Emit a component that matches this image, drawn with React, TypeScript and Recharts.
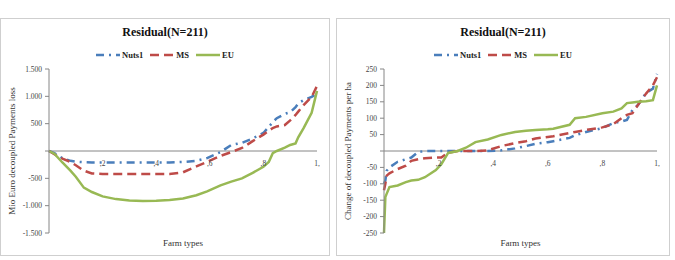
import { LineChart, Line, XAxis, YAxis, ReferenceLine, ReferenceDot } from "recharts";

// share of farm types (x) and cumulative residual loss, Mio Euro
const lossShare = [0, 0.02, 0.05, 0.08, 0.1, 0.13, 0.16, 0.2, 0.25, 0.3, 0.35, 0.4, 0.45, 0.5, 0.55, 0.59, 0.64, 0.68, 0.72, 0.76, 0.8, 0.82, 0.835, 0.85, 0.88, 0.9, 0.92, 0.93, 0.95, 0.98, 1];
const lossNuts1 = [0, -40, -130, -180, -195, -205, -210, -210, -210, -210, -210, -210, -210, -200, -180, -130, -20, 110, 150, 230, 330, 440, 530, 600, 680, 710, 800, 870, 930, 990, 1050];
const lossMS = [0, -60, -140, -200, -260, -360, -410, -420, -420, -420, -420, -420, -420, -390, -280, -200, -90, -20, 55, 180, 300, 370, 420, 450, 475, 560, 660, 720, 840, 990, 1190];
const lossEU = [0, -50, -210, -360, -470, -670, -750, -830, -880, -905, -915, -910, -895, -870, -810, -740, -630, -560, -500, -400, -290, -200, -40, 0, 60, 110, 140, 250, 420, 700, 1100];

// change of decoupled payments per ha
const haShare = [0, 0.005, 0.01, 0.02, 0.05, 0.08, 0.1, 0.125, 0.15, 0.19, 0.21, 0.235, 0.27, 0.3, 0.335, 0.38, 0.43, 0.48, 0.52, 0.555, 0.6, 0.62, 0.68, 0.7, 0.74, 0.8, 0.84, 0.87, 0.89, 0.91, 0.93, 0.96, 0.985, 1];
const haNuts1 = [-100, -90, -60, -50, -33, -25, -20, -3, 0, 0, 0, 0, 0, 0, 0, 0, 2, 8, 15, 22, 27, 30, 40, 48, 58, 70, 85, 90, 95, 125, 140, 177, 190, 235];
const haMS = [-120, -100, -75, -68, -55, -45, -30, -25, -22, -20, -20, -5, 0, 0, 0, 2, 15, 24, 30, 38, 43, 45, 55, 58, 64, 72, 82, 100, 110, 115, 140, 175, 200, 225];
const haEU = [-250, -140, -130, -110, -105, -95, -90, -88, -80, -58, -40, -6, 0, 10, 27, 35, 49, 58, 62, 64, 66, 68, 80, 100, 104, 115, 120, 130, 146, 148, 150, 152, 155, 200];

const lossTicks = [-1500, -1000, -500, 0, 500, 1000, 1500];
const haTicks = [-250, -200, -150, -100, -50, 0, 50, 100, 150, 200, 250];
const shareTicks = [0.2, 0.4, 0.6, 0.8, 1];
const shareLabels = [",2", ",4", ",6", ",8", "1,"];

const seriesNames = ["Nuts1", "MS", "EU"];
const seriesColors = ["#4A7EBB", "#BE4B48", "#98B954"];
const seriesDash = ["8 5 2 5", "9 5", undefined];

const FONT = "'Liberation Serif', 'DejaVu Serif', serif";
const AXIS = "#868686";

function fmt(v: number) {
  if (v === 0) return "";
  const s = Math.abs(v).toString().replace(/\B(?=(\d{3})+(?!\d))/g, ".");
  return v < 0 ? `-${s}` : s;
}

function AxisTitle({ viewBox, value }: { viewBox?: any; value: string }) {
  const x = viewBox.x + 12;
  const y = viewBox.y + viewBox.height / 2;
  return (
    <text x={x} y={y} transform={`rotate(-90 ${x} ${y})`} textAnchor="middle" dominantBaseline="central" fontSize={9} fill="#333" fontFamily={FONT}>
      {value}
    </text>
  );
}

function Legend() {
  return (
    <div style={{ display: "flex", justifyContent: "center", alignItems: "center", gap: 7, fontSize: 8.5, fontWeight: "bold", fontFamily: FONT, color: "#222" }}>
      {seriesNames.map((n, i) => (
        <div key={n} style={{ display: "flex", alignItems: "center", gap: 2 }}>
          <svg width={24} height={6}>
            <line x1={0} y1={3} x2={24} y2={3} stroke={seriesColors[i]} strokeWidth={2.5} strokeDasharray={seriesDash[i]} />
          </svg>
          <span>{n}</span>
        </div>
      ))}
    </div>
  );
}

type PanelProps = {
  left: number;
  width: number;
  yLabel: string;
  share: number[];
  values: number[][];
  yTicks: number[];
  yAxisWidth: number;
};

function Panel({ left, width, yLabel, share, values, yTicks, yAxisWidth }: PanelProps) {
  const data = share.map((x, i) => ({ x, s0: values[0][i], s1: values[1][i], s2: values[2][i] }));
  const height = 238;
  return (
    <div style={{ position: "absolute", left, top: 18, width, height, border: "1px solid #cfcfcf", boxSizing: "border-box" }}>
      <div style={{ position: "absolute", top: 6, left: 0, width: "100%", textAlign: "center", fontFamily: FONT, fontWeight: "bold", fontSize: 12, color: "#111" }}>
        Residual(N=211)
      </div>
      <div style={{ position: "absolute", top: 31, left: 0, width: "100%" }}>
        <Legend />
      </div>
      <div style={{ position: "absolute", left: -1, top: -1 }}>
        <LineChart width={width} height={height} data={data} margin={{ top: 51, right: 13, bottom: 0, left: 0 }}>
          <XAxis
            dataKey="x"
            type="number"
            domain={[0, 1]}
            ticks={shareTicks}
            tick={false}
            axisLine={false}
            tickLine={false}
            height={23}
            label={{ value: "Farm types", position: "insideBottom", offset: 10, fontSize: 9, fill: "#333", fontFamily: FONT }}
          />
          <YAxis
            type="number"
            domain={[yTicks[0], yTicks[yTicks.length - 1]]}
            ticks={yTicks}
            interval={0}
            tickFormatter={fmt}
            width={yAxisWidth}
            tickSize={4}
            tickMargin={3}
            stroke={AXIS}
            tick={{ fontSize: 7.5, fill: "#444", fontFamily: FONT }}
            label={{ content: (p: any) => <AxisTitle viewBox={p.viewBox} value={yLabel} /> }}
          />
          <ReferenceLine y={0} stroke={AXIS} strokeWidth={1} />
          {shareTicks.map((t, i) => (
            <ReferenceDot
              key={t}
              x={t}
              y={0}
              r={0}
              shape={(p: any) => (
                <text x={p.cx} y={p.cy + 15} textAnchor="middle" fontSize={7.5} fill="#444" fontFamily={FONT}>
                  {shareLabels[i]}
                </text>
              )}
            />
          ))}
          {seriesNames.map((n, i) => (
            <Line
              key={n}
              dataKey={`s${i}`}
              name={n}
              type="linear"
              stroke={seriesColors[i]}
              strokeWidth={2.5}
              strokeDasharray={seriesDash[i]}
              dot={false}
              isAnimationActive={false}
            />
          ))}
        </LineChart>
      </div>
    </div>
  );
}

export default function App() {
  return (
    <div style={{ position: "absolute", left: 0, top: 0, width: 675, height: 260, background: "#fff" }}>
      <Panel
        left={0}
        width={330}
        yLabel="Mio Euro decoupled Payments loss"
        share={lossShare}
        values={[lossNuts1, lossMS, lossEU]}
        yTicks={lossTicks}
        yAxisWidth={49}
      />
      <Panel
        left={336}
        width={334}
        yLabel="Change of decoupled Payments per ha"
        share={haShare}
        values={[haNuts1, haMS, haEU]}
        yTicks={haTicks}
        yAxisWidth={48}
      />
    </div>
  );
}
